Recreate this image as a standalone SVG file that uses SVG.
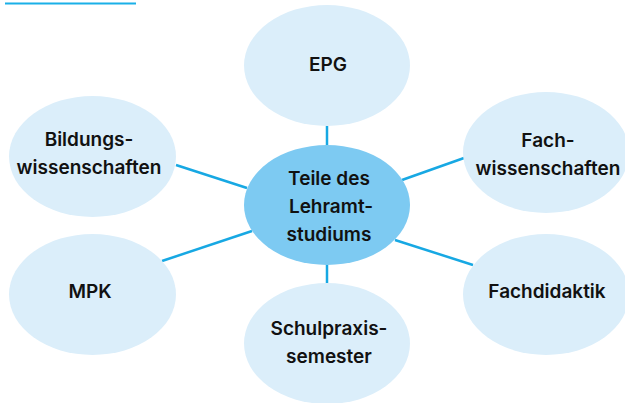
<svg xmlns="http://www.w3.org/2000/svg" width="625" height="403" viewBox="0 0 625 403">
<style>
.n{fill:#dbeefa}
.c{fill:#7dcaf2}
.t{font-family:Inter,"Liberation Sans",Arial,sans-serif;font-weight:600;font-size:19px;fill:#111;text-anchor:middle}
.l{stroke:#17a8e3;stroke-width:2.5;fill:none}
</style>
<rect width="625" height="403" fill="#fff"/>
<line x1="5" y1="3.5" x2="136" y2="3.5" stroke="#1ab0e8" stroke-width="2"/>
<g id="connectors">
<line class="l" x1="327" y1="126" x2="327" y2="146"/>
<line class="l" x1="327" y1="264" x2="327" y2="284"/>
<line class="l" x1="176" y1="165" x2="247" y2="188"/>
<line class="l" x1="162" y1="261" x2="252" y2="231"/>
<line class="l" x1="464" y1="158" x2="402" y2="180"/>
<line class="l" x1="473" y1="265" x2="395" y2="240"/>
</g>
<g id="epg"><ellipse class="n" cx="327" cy="65.5" rx="83" ry="60.5"/><text class="t" x="328" y="71">EPG</text></g>
<g id="bildung"><ellipse class="n" cx="92.5" cy="156.5" rx="83.5" ry="60.5"/><text class="t" x="89" y="146">Bildungs-</text><text class="t" x="89" y="174">wissenschaften</text></g>
<g id="fach"><ellipse class="n" cx="546" cy="152.5" rx="83" ry="60.5"/><text class="t" x="548" y="147">Fach-</text><text class="t" x="548" y="175">wissenschaften</text></g>
<g id="mpk"><ellipse class="n" cx="92.5" cy="294.5" rx="83.5" ry="60.5"/><text class="t" x="90" y="298">MPK</text></g>
<g id="fachdidaktik"><ellipse class="n" cx="546" cy="294.5" rx="83" ry="60.5"/><text class="t" x="547" y="298">Fachdidaktik</text></g>
<g id="schulpraxis"><ellipse class="n" cx="327" cy="343.5" rx="83" ry="60.5"/><text class="t" x="329" y="335">Schulpraxis-</text><text class="t" x="329" y="363">semester</text></g>
<g id="center"><ellipse class="c" cx="327" cy="205" rx="83" ry="60"/><text class="t" x="329" y="185">Teile des</text><text class="t" x="331" y="213">Lehramt-</text><text class="t" x="329" y="241">studiums</text></g>
</svg>
